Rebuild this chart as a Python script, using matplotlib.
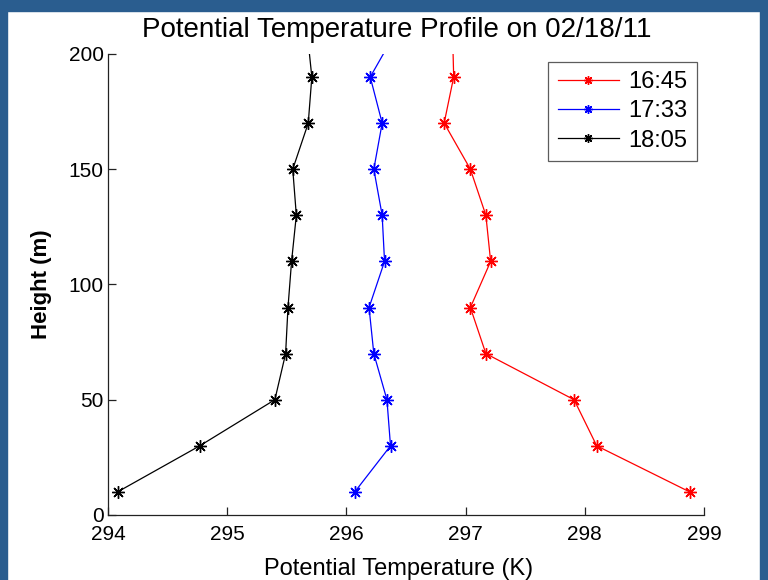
import numpy as np
import matplotlib
matplotlib.use("Agg")
import matplotlib.pyplot as plt
from matplotlib.patches import Rectangle

plt.rcParams['font.family'] = ['Liberation Sans', 'DejaVu Sans']

# heights (m); the last level is above the plot top and gets clipped
heights = np.array([10, 30, 50, 70, 90, 110, 130, 150, 170, 190, 210])
theta_1645 = np.array([298.88, 298.10, 297.91, 297.17, 297.04, 297.21,
                       297.17, 297.04, 296.82, 296.90, 296.89])
theta_1733 = np.array([296.07, 296.37, 296.34, 296.23, 296.19, 296.32,
                       296.30, 296.23, 296.30, 296.20, 296.42])
theta_1805 = np.array([294.08, 294.77, 295.40, 295.49, 295.51, 295.54,
                       295.58, 295.55, 295.68, 295.71, 295.67])
labels = ['16:45', '17:33', '18:05']

fig = plt.figure(figsize=(7.68, 5.80), dpi=100)
ax = fig.add_axes([0.1406, 0.1121, 0.7761, 0.7949])

# matlab style asterisk marker
star = (8, 2, 0)
for th, lab, c in zip([theta_1645, theta_1733, theta_1805], labels, ['r', 'b', 'k']):
    ax.plot(th, heights, color=c, marker=star, markersize=9, linewidth=0.9,
            markeredgewidth=1.0, label=lab)

ax.set_xlim(294, 299)
ax.set_ylim(0, 200)
ax.set_xticks([294, 295, 296, 297, 298, 299])
ax.set_yticks([0, 50, 100, 150, 200])
ax.spines['top'].set_visible(False)
ax.spines['right'].set_visible(False)
for s in ['left', 'bottom']:
    ax.spines[s].set_linewidth(0.9)
    ax.spines[s].set_color('#222222')
ax.tick_params(direction='in', length=6, width=0.9, labelsize=15, color='#222222')
ax.tick_params(axis='x', pad=7)
ax.tick_params(axis='y', pad=3)

ax.set_title('Potential Temperature Profile on 02/18/11', fontsize=20, pad=12, x=0.485)
ax.set_xlabel('Potential Temperature (K)', fontsize=17, labelpad=10, x=0.488)
ax.set_ylabel('Height (m)', fontsize=16, fontweight='bold', labelpad=12)

leg = ax.legend(loc='upper right', fontsize=17, frameon=True, fancybox=False,
                handlelength=2.6, borderaxespad=0.0, labelspacing=0.3,
                handletextpad=0.4, markerscale=0.7,
                bbox_to_anchor=(1 - 7/596, 1 - 8/461))
leg.get_frame().set_edgecolor('#333333')
leg.get_frame().set_linewidth(0.9)

# blue slide frame
frame_col = '#2A5D8F'
fig.patches.append(Rectangle((0, 0), 7/768, 1, transform=fig.transFigure, color=frame_col, zorder=10))
fig.patches.append(Rectangle((1 - 8/768, 0), 8/768, 1, transform=fig.transFigure, color=frame_col, zorder=10))
fig.patches.append(Rectangle((0, 1 - 11/580), 1, 11/580, transform=fig.transFigure, color=frame_col, zorder=10))

fig.savefig('out.png', dpi=100)
